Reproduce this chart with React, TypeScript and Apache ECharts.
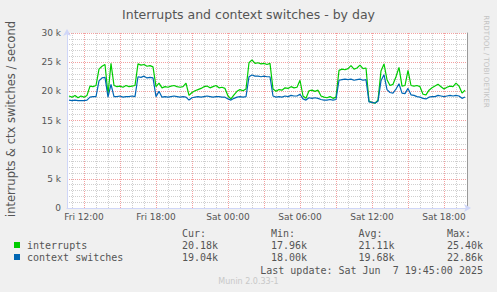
import React, { useEffect, useRef } from 'react';
import * as echarts from 'echarts';

// time: hours since Fri 00:00, samples every 15 minutes starting Fri 10:45
const startHour = 10.75;
const stepHours = 0.25;
const xMin = 10.5833;
const xMax = 43.9167;

const interrupts = [
  19.2, 19.0, 19.3, 18.9, 19.2, 19.0, 19.3, 20.9, 20.8, 21.0,
  23.8, 24.3, 24.6, 19.5, 24.8, 21.0, 20.8, 20.9, 20.7, 21.0,
  20.8, 20.9, 21.0, 24.7, 24.5, 24.6, 24.3, 24.4, 24.2, 20.8,
  21.4, 20.6, 20.8, 20.7, 20.9, 21.0, 20.8, 20.7, 20.8, 21.4,
  19.3, 19.8, 20.1, 20.3, 20.5, 20.8, 20.9, 20.6, 20.8, 21.0,
  20.6, 20.7, 20.5, 19.2, 18.7, 19.4, 20.0, 20.3, 20.1, 20.4,
  24.9, 25.4, 24.8, 24.9, 24.7, 24.8, 24.6, 24.8, 20.4, 20.0,
  20.3, 20.2, 20.6, 20.5, 20.8, 20.6, 20.7, 21.9, 19.2, 18.8,
  20.1, 20.2, 20.0, 20.2, 19.2, 19.0, 18.9, 19.1, 18.8, 19.0,
  23.6, 23.8, 23.7, 23.9, 24.4, 23.8, 24.0, 24.5, 23.9, 24.0,
  18.3, 18.1, 17.96, 18.5, 23.5, 24.7, 22.0, 21.0, 21.2, 22.5,
  24.1, 20.9, 21.0, 23.6, 21.0, 20.9, 21.0, 20.8, 19.5, 19.4,
  20.2, 20.6, 20.9, 21.2, 20.8, 20.4, 20.7, 20.9, 20.8, 21.4,
  20.9, 19.7, 20.18,
];

const ctxSwitches = [
  18.5, 18.4, 18.5, 18.4, 18.4, 18.4, 18.5, 19.0, 19.1, 19.1,
  21.8, 22.3, 22.4, 19.0, 21.2, 19.1, 19.1, 19.2, 19.0, 19.1,
  19.1, 19.2, 19.1, 22.5, 22.4, 22.6, 22.3, 22.4, 22.3, 19.1,
  20.0, 19.0, 19.1, 19.0, 19.1, 19.2, 19.1, 19.0, 19.1, 19.0,
  18.5, 18.9, 19.0, 19.1, 19.0, 19.1, 19.2, 19.1, 19.0, 19.1,
  19.1, 19.0, 19.0, 18.7, 18.5, 18.8, 19.0, 19.1, 19.0, 19.1,
  22.5, 22.8, 22.6, 22.6, 22.5, 22.6, 22.5, 22.5, 19.2, 19.0,
  19.1, 19.0, 19.2, 19.1, 19.3, 19.2, 19.2, 19.5, 18.7, 18.5,
  18.9, 18.8, 18.9, 18.8, 18.6, 18.5, 18.5, 18.6, 18.5, 18.6,
  21.9, 22.0, 22.1, 22.0, 22.1, 21.9, 22.0, 22.1, 21.9, 22.0,
  18.2, 18.1, 18.0, 18.3, 21.8, 22.86, 20.3, 19.8, 19.7, 20.4,
  21.3, 19.7, 19.6, 20.5, 19.4, 19.3, 19.1, 19.0, 18.8, 18.7,
  19.0, 19.1, 19.1, 19.3, 19.2, 19.1, 19.2, 19.3, 19.2, 19.3,
  19.2, 18.8, 19.04,
];

const xLabelHours = [12, 18, 24, 30, 36, 42];
const xLabelTexts = ['Fri 12:00', 'Fri 18:00', 'Sat 00:00', 'Sat 06:00', 'Sat 12:00', 'Sat 18:00'];
const yLabelValues = [0, 5000, 10000, 15000, 20000, 25000, 30000];
const yLabelTexts = ['0', '5 k', '10 k', '15 k', '20 k', '25 k', '30 k'];

const seriesNames = ['interrupts', 'context switches'];
const seriesColors = ['#00CC00', '#0066B3'];
const statHeaders = ['Cur:', 'Min:', 'Avg:', 'Max:'];
const curValues = ['20.18k', '19.04k'];
const minValues = ['17.96k', '18.00k'];
const avgValues = ['21.11k', '19.68k'];
const maxValues = ['25.40k', '22.86k'];
const lastUpdate = 'Last update: Sat Jun  7 19:45:00 2025';

const titleText = 'Interrupts and context switches - by day';
const yAxisTitle = 'interrupts & ctx switches / second';
const sideText = 'RRDTOOL / TOBI OETIKER';
const footerText = 'Munin 2.0.33-1';

const hourTicks: number[] = [];
for (let h = Math.ceil(xMin); h <= Math.floor(xMax); h++) hourTicks.push(h);

const toPairs = (vals: number[]) => vals.map((v, i) => [startHour + i * stepHours, v * 1000]);

const MAJOR = '#f3a0a0';
const MINOR = '#cfcfcf';
const AXIS = '#CFD6F8';
const FONT = '#555555';
const MONO = 'normal 10px "DejaVu Sans Mono"';

export default function App() {
  const ref = useRef<HTMLDivElement>(null);
  useEffect(() => {
    if (!ref.current) return;
    const chart = echarts.init(ref.current, undefined, { renderer: 'svg' });

    const colRight = [218, 307, 394.5, 483];
    const statCols = [curValues, minValues, avgValues, maxValues];
    const graphics: any[] = [];
    statHeaders.forEach((h, c) => {
      graphics.push({
        type: 'text', x: colRight[c] - 36, y: 233.5,
        style: { text: h, font: MONO, fill: FONT, textAlign: 'left', textVerticalAlign: 'middle' },
      });
    });
    seriesNames.forEach((name, r) => {
      const yy = 245.5 + r * 12;
      graphics.push({
        type: 'rect', shape: { x: 14, y: yy - 3.5, width: 6, height: 6 },
        style: { fill: seriesColors[r] },
      });
      graphics.push({
        type: 'text', x: 27, y: yy,
        style: { text: name, font: MONO, fill: FONT, textAlign: 'left', textVerticalAlign: 'middle' },
      });
      statCols.forEach((col, c) => {
        graphics.push({
          type: 'text', x: colRight[c], y: yy,
          style: { text: col[r], font: MONO, fill: FONT, textAlign: 'right', textVerticalAlign: 'middle' },
        });
      });
    });
    graphics.push({
      type: 'text', x: 483, y: 270,
      style: { text: lastUpdate, font: MONO, fill: FONT, textAlign: 'right', textVerticalAlign: 'middle' },
    });
    graphics.push({
      type: 'text', x: 248.5, y: 281,
      style: { text: footerText, font: 'normal 8px "DejaVu Sans"', fill: '#c8c8c8', textAlign: 'center', textVerticalAlign: 'middle' },
    });
    graphics.push({
      type: 'text', x: 11, y: 119, rotation: Math.PI / 2,
      style: { text: yAxisTitle, font: 'normal 11.5px "DejaVu Sans"', fill: FONT, textAlign: 'center', textVerticalAlign: 'middle' },
    });
    graphics.push({
      type: 'text', x: 486.5, y: 61.5, rotation: -Math.PI / 2,
      style: { text: sideText, font: 'normal 7.2px "DejaVu Sans"', fill: '#c4c4c4', textAlign: 'center', textVerticalAlign: 'middle' },
    });

    chart.setOption({
      animation: false,
      backgroundColor: '#f0f0f0',
      title: {
        text: titleText, left: 'center', top: 3,
        textStyle: { fontSize: 12.5, fontWeight: 'normal', color: FONT, fontFamily: 'DejaVu Sans' },
      },
      grid: { left: 67, top: 33, width: 400, height: 175, show: true, backgroundColor: '#ffffff', borderWidth: 0 },
      xAxis: {
        type: 'value', min: xMin, max: xMax,
        axisLine: { show: true, onZero: false, lineStyle: { color: AXIS, width: 1 }, symbol: ['none', 'arrow'], symbolSize: [6, 7], symbolOffset: [0, 4] },
        axisTick: { show: false, customValues: hourTicks },
        splitLine: { show: true, lineStyle: { color: [MINOR, MAJOR, MINOR], type: [1, 1], width: 1 } },
        axisLabel: {
          customValues: xLabelHours,
          formatter: (v: number) => xLabelTexts[xLabelHours.indexOf(Math.round(v))] ?? '',
          color: FONT, fontSize: 9, fontFamily: 'DejaVu Sans', margin: 4,
        },
      },
      yAxis: [
        {
          type: 'value', min: 0, max: 30000, interval: 1000,
          axisLine: { show: true, lineStyle: { color: AXIS, width: 1 }, symbol: ['none', 'arrow'], symbolSize: [6, 7], symbolOffset: [0, 4] },
          axisTick: { show: false },
          splitLine: { show: true, lineStyle: { color: [MAJOR, MINOR, MINOR, MINOR, MINOR], type: [1, 1], width: 1 } },
          axisLabel: {
            formatter: (v: number) => { const k = yLabelValues.indexOf(v); return k >= 0 ? yLabelTexts[k] : ''; },
            color: FONT, fontSize: 9, fontFamily: 'DejaVu Sans', margin: 6,
          },
        },
        {
          type: 'value', min: 0, max: 30000, position: 'right',
          axisLine: { show: true, lineStyle: { color: '#9a9a9a', width: 1 } },
          axisTick: { show: false }, axisLabel: { show: false }, splitLine: { show: false },
        },
      ],
      series: [
        {
          name: seriesNames[0], type: 'line', data: toPairs(interrupts), showSymbol: false,
          lineStyle: { color: seriesColors[0], width: 1.2 }, itemStyle: { color: seriesColors[0] },
        },
        {
          name: seriesNames[1], type: 'line', data: toPairs(ctxSwitches), showSymbol: false,
          lineStyle: { color: seriesColors[1], width: 1.2 }, itemStyle: { color: seriesColors[1] },
        },
      ],
      graphic: graphics,
    });
    return () => chart.dispose();
  }, []);
  return <div ref={ref} style={{ position: 'absolute', left: 0, top: 0, width: 497, height: 292 }} />;
}
